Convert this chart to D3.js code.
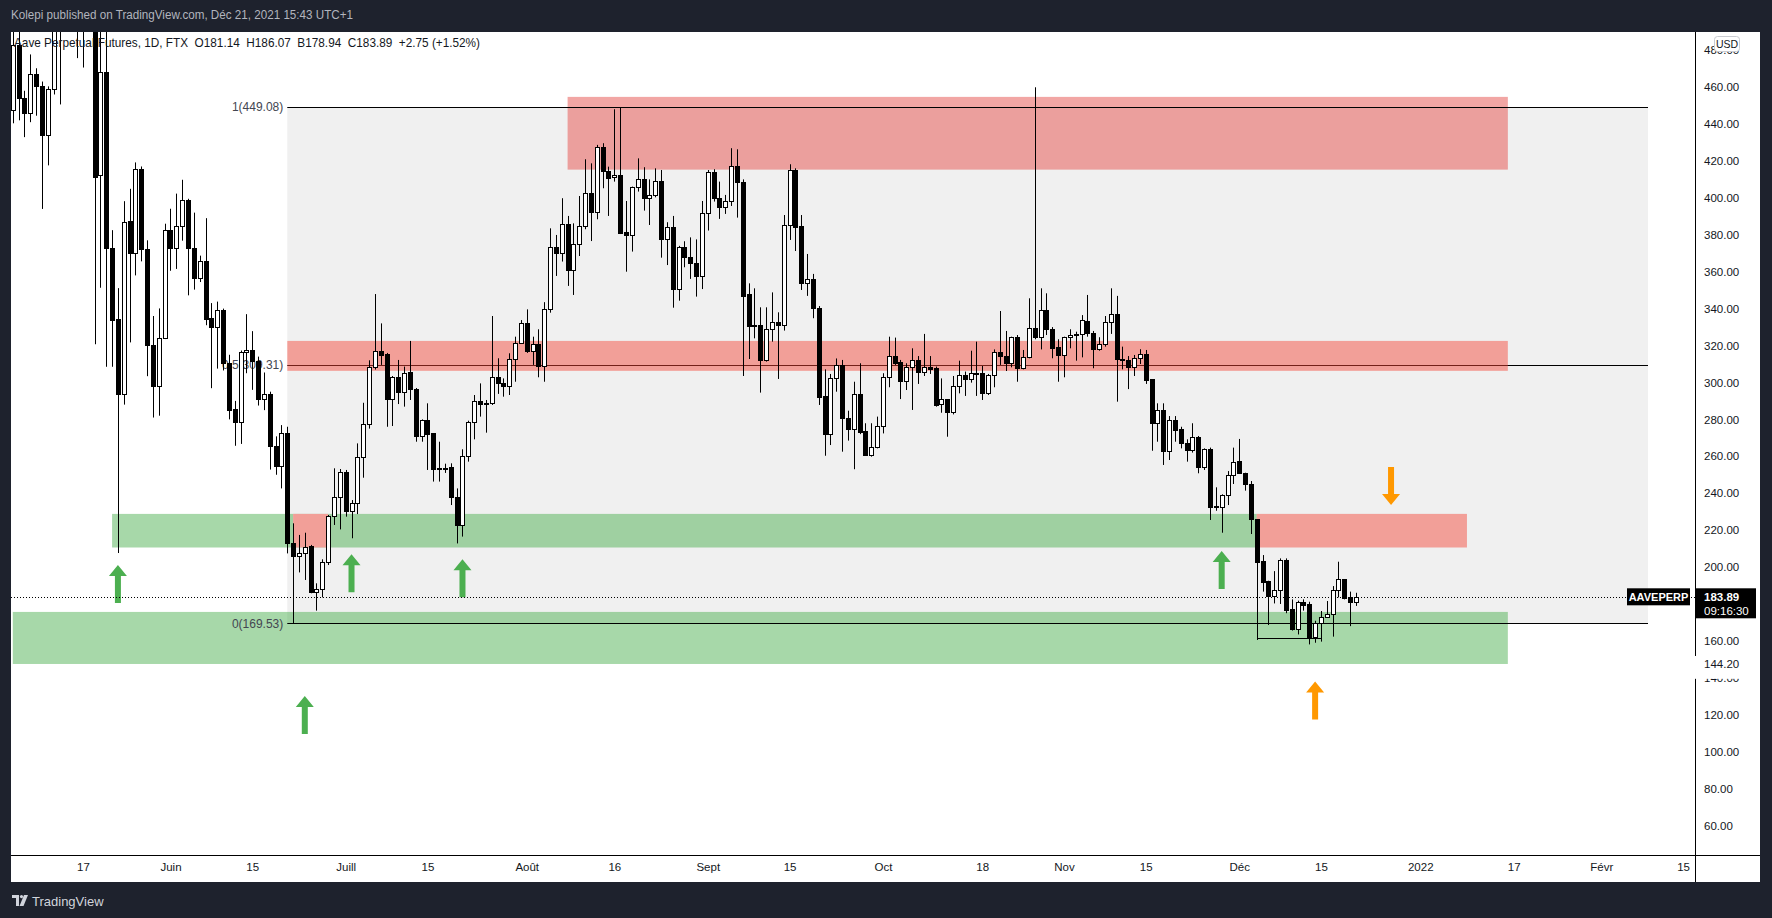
<!DOCTYPE html>
<html><head><meta charset="utf-8">
<script src="https://cdn.jsdelivr.net/npm/d3@7"></script>
<style>
html,body{margin:0;padding:0;background:#1e222d;}
svg{display:block;font-family:"Liberation Sans",Arial,sans-serif;}
</style></head>
<body>
<svg id="chart" width="1772" height="918"></svg>
<script>
// ---------- DATA ----------
const startDate = "2021-05-05";
const open  = [447.8,482.8,453.9,445.7,466.9,460.4,433.9,458.8,500,505,540,580,560,600,620,412.5,468.2,373.1,334.4,293.6,387.4,370.3,415.5,372.1,320.1,297.9,324.2,382.5,373.1,384.6,398.8,373.1,356.4,365.6,335,329.9,339,310.5,285.5,278.5,316.3,317.7,311.6,290.8,293.6,265.7,254.7,272.8,212.8,206.2,207.4,211.4,186.7,188,202.9,227.8,238.1,251.3,230.5,234.5,259.8,277.3,308.2,316.9,315.4,291.2,303.1,295,305.7,296.5,271.2,279.5,272.4,253.8,253.8,254,238.1,223,260.2,278.8,290.1,288.7,288.7,302.8,299.9,298.3,312.5,321.6,332,316.9,320.7,308.9,339.6,373.2,370,385.7,360.9,374.8,384.8,402.8,392.5,427.8,414.8,411.1,412.6,381.4,380.1,405.7,410,400.1,401.4,409,377.9,384,350.5,373.2,367.8,364.5,357.9,392,413.9,400.1,395.2,398.5,417.5,408.8,347.7,331.1,331.1,312.2,328.8,332.9,331.1,385.3,415.1,384.8,354.1,355.9,340.2,292.7,271.9,302.2,309.5,280.9,274.6,293.7,273.7,260.7,265.2,276.4,302.8,314.3,311.1,301,308.2,312.2,305.9,308.2,307.7,288.2,290.9,284.2,298.1,304,301.7,304.9,304.9,294.1,304,316.7,314.5,310.4,324.5,308,313.6,329.3,324.8,339.3,328.8,319.4,314.7,324.5,325.5,326.3,333.5,326.6,318.1,320.7,332.6,336.9,312.5,312.2,308.5,313.1,315.2,301.7,278.2,285.1,263,279.7,274.8,267.2,263.4,270.3,254.4,263.8,233.3,232.7,239,249.9,257.5,250.8,244.8,225.8,203.3,192.4,184.3,187.5,203.8,177.1,166.4,181.2,180,162.3,169.5,172.8,174.4,187.6,193.3,183.9,181.14];
const high  = [490,492,458,477.7,470.2,463,460.4,510,520,560,600,610,640,661,630,500,500,382.5,351.1,398.2,404.9,419.2,417,377,336,340.1,386,394.1,402.3,409.8,399.5,392,368.7,389,343,343.8,340,315,290,317.3,337,327.8,314,305.4,295,270.8,276.9,276,223.7,217.4,218.6,212,191.2,204.2,228.2,253.5,253.1,252.6,236.3,267,289,312,347.9,332,316,303.5,312.2,308.6,322.5,297,280,288.7,272.5,267.9,256,256.2,242.6,263.8,279.3,293.2,299.5,290.5,336,313.1,302.2,315.8,324.8,333.8,339.6,324.8,328.8,343.5,383.5,379.9,399.8,390.2,386.2,401,420.9,418.7,428.7,429.6,416.9,448,449.08,398.3,406.1,421.4,416.6,410,416,415.1,386.8,390.2,374,376.5,378.6,377.5,398.3,415.1,415.5,408.8,401.6,426.9,426.3,410,353.7,351,340.7,340.7,348.8,338,390.7,418.2,416,390.7,369.6,358.8,341.4,307.1,304.6,313,312.2,284.7,300.4,310.4,277.9,277.9,281.5,305,324.8,324.3,312.2,310.4,318.5,314.3,326.3,314.3,308.6,302.2,291,303.5,311.8,305.9,317.2,322.1,308.9,304.6,317.9,338.7,327.9,324.8,325.7,317.6,345.6,459.9,351,348.3,330,323.4,324.8,328.8,327.5,336.5,347.4,327.9,324.5,336,351,346.9,319.4,314.3,314.9,318,317.6,301.7,288.7,288.7,281.8,281.8,276,269.2,277.9,271,264.3,264.7,243.2,239.4,252,264.7,269.4,251.1,246.6,226,206.5,192.6,197.8,204.7,204.7,182.5,181.8,182.5,181.2,170.9,176.2,181.6,189.7,202.9,193.3,186.7,186.07];
const low   = [440.4,442,432.9,441,444.5,394,417.6,456,450.6,498,530,475.7,470.6,560,320.7,351.3,308.5,308.5,207.6,288,321.7,358,365.6,303.4,281,282,323.5,360.5,361.5,376.8,347.2,350.3,354.4,331,296.9,307.5,306.5,280,265.7,266.7,305,296,287.5,285,252.8,250,242.6,207.4,169.53,197.1,193,185.8,176.4,183.6,201.1,222.8,220.4,227.3,215.6,228.7,248.4,275,307,309.5,276,276.4,288.3,286.9,290.5,267.9,267.9,252.6,246.3,246.3,251,233.6,212.8,216.5,257.1,269.2,281.5,272.8,287.8,293.8,292.3,293.2,300.4,321.2,316,309.5,302.8,300.4,337.8,357.7,365.5,352.3,347.4,368.5,383,376.6,388.4,405.2,390.2,408.8,380.4,360,370.9,403.4,393.1,385.3,400.3,367.6,363.6,340.5,344.3,362.4,356.1,346.5,350.6,382.3,398,388.6,391.3,395.6,389.3,303.5,312.7,323.9,294.5,311.3,322.1,301.9,328.1,377.2,371.2,350.1,346.9,334.8,287.8,260.3,266.1,295,262.5,268.5,253,272,260.2,259.8,264.3,272.4,297.4,309.5,291,295.9,285.1,299.2,303.5,304.6,286.9,283.6,270.6,282.7,294.1,292.7,299.9,292.7,290.5,293.2,297.4,309.5,306.2,308.2,300.4,307.1,313.1,323.4,317.9,325.7,313.1,300.4,302.8,318.5,311.8,313.6,324.8,307.7,317.2,319.4,326.3,289.6,307.1,296.4,303.5,310,299.2,263,267.9,255.3,258,267.9,264.3,257.1,262,250.8,252.6,225.5,230.5,218.6,233.6,245,250.4,241.4,217.9,160.5,186.7,168.6,180.3,180,175,165.6,163.5,176.4,158.1,159,159.6,172.8,162.3,183.6,182.5,168,178.94];
const close = [482.8,453.9,445.7,466.9,460.4,433.9,458.8,500,505,540,580,560,600,620,411.5,468.2,373.1,333.9,293.6,387,370.3,415.5,372.1,320.1,297.9,324.2,382.5,373.1,385,398.8,373.1,356.4,365.6,334.4,329.9,339,310.5,285,278.5,316.3,317.7,311.6,290.8,293.6,265.7,254.5,272.8,212.8,206.2,207.4,211,186.7,188,202.9,227.8,238.1,251.3,230.5,234.5,259.8,277.3,308.2,316.9,315.1,291.2,303.1,295,305,296.5,271.2,279.5,272.1,253.3,253.5,253.3,238.1,223,260.2,278.8,290.1,288.2,288.2,302.8,299.9,298.3,312.5,321.6,332,316.9,320.7,308.9,339.6,373.2,370,385.7,360.9,374.8,384.8,402.8,392.5,427.8,414.8,411,412.6,381.2,380.1,405.7,410,400.1,401.4,409,377.9,384,350.5,373.2,367.8,364.5,357.9,392,413.9,400.1,395.2,398.5,417.5,408.8,347,330.6,330.6,312.2,328.8,332.9,331.1,385.3,415.1,384.4,354.1,355.9,340.2,292.3,271.9,302.2,309.5,280.9,274.6,293.7,273.4,260.7,265.2,276.4,302.8,314.3,310.7,301,308.2,312.2,305.9,308.2,307.5,287.8,290.9,284.2,298.1,304,301.7,304.9,304.9,294.1,304,316.7,314.5,310.4,324.5,308,313.6,329.3,324.8,339.3,328.8,318.9,314.7,324.5,325.7,326.3,333.8,326.6,318.1,320.7,332.6,336.9,312.5,312,308.5,313.1,315.2,301.3,278.2,285.1,263,279.7,274.2,267,263.4,270.3,254.4,263.8,232.7,232.7,239,249.9,257.1,250.8,244.8,225.8,202.9,192.1,184.3,187.5,203.8,176.7,166.4,181.2,179.4,162.3,169.5,172.8,174.4,187.6,193.3,183,181.14,183.89];

const yTicks = [480,460,440,420,400,380,360,340,320,300,280,260,240,220,200,160,140,120,100,80,60];
const xTickDates  = ["2021-05-17","2021-06-01","2021-06-15","2021-07-01","2021-07-15","2021-08-01","2021-08-16","2021-09-01","2021-09-15","2021-10-01","2021-10-18","2021-11-01","2021-11-15","2021-12-01","2021-12-15","2022-01-01","2022-01-17","2022-02-01","2022-02-15"];
const xTickLabels = ["17","Juin","15","Juill","15","Août","16","Sept","15","Oct","18","Nov","15","Déc","15","2022","17","Févr","15"];

// fib retracement (levels, prices, date span)
const fibLevels = ["1","0.5","0"];
const fibPrices = [449.08,309.31,169.53];
const fibSpan   = ["2021-06-21","2022-02-09"];

// zones: start, end, top, bottom, colour, opaque (drawn over other zones)
const zoneStart  = ["2021-08-08","2021-06-21","2021-05-22","2021-05-05","2021-06-22","2021-12-04"];
const zoneEnd    = ["2022-01-16","2022-01-16","2021-12-04","2022-01-16","2021-06-28","2022-01-09"];
const zoneTop    = [454.7,322.5,228.8,175.7,228.8,228.8];
const zoneBottom = [415.3,306.3,210.6,147.5,210.6,210.6];
const zoneType   = ["darkred","red","green","green","red","red"];
const zoneAlpha  = [0.5,0.47,0.49,0.49,0.47,0.47];
const zoneOpaque = [false,false,false,false,true,false];

// arrows: date, tip price, direction, colour
const arrowDates  = ["2021-05-23","2021-07-02","2021-07-21","2021-06-24","2021-11-28","2021-12-27","2021-12-14"];
const arrowTip    = [201.1,206.9,204.2,130.1,208.7,233.6,138];
const arrowDir    = ["up","up","up","up","up","down","up"];
const arrowColor  = ["green","green","green","green","green","orange","orange"];

// horizontal trend line
const trendDates = ["2021-12-04","2021-12-15"];
const trendPrice = 161.4;

const lastPrice = 183.89;
const symbol = "AAVEPERP";
const countdown = "09:16:30";
const zoneBottomLabel = "144.20";

// ---------- LAYOUT ----------
const W = 1772, H = 918;
const paneL = 11, paneT = 32, paneR = 1695, paneB = 855, axisR = 1760, bottomB = 882;
const svg = d3.select("#chart");
const parse = d3.utcParse("%Y-%m-%d");
const t0 = parse(startDate);
const candles = open.map((o,i)=>({d:d3.utcDay.offset(t0,i),o,h:high[i],l:low[i],c:close[i]}));

const x = d3.scaleUtc().domain([t0, candles[candles.length-1].d]).range([12.8, 1356]);
const y = d3.scaleLinear().domain([60,460]).range([825.5,87.1]);

svg.append("rect").attr("width",W).attr("height",H).attr("fill","#1e222d");
svg.append("rect").attr("x",paneL).attr("y",paneT).attr("width",axisR-paneL).attr("height",bottomB-paneT).attr("fill","#ffffff");

// header
svg.append("text").attr("x",11).attr("y",19).attr("fill","#b2b5be").attr("font-size",12.5)
  .attr("textLength",342).attr("lengthAdjust","spacingAndGlyphs")
  .text("Kolepi published on TradingView.com, Déc 21, 2021 15:43 UTC+1");

const defs = svg.append("defs");
defs.append("clipPath").attr("id","plot").append("rect")
  .attr("x",paneL).attr("y",paneT).attr("width",paneR-paneL).attr("height",paneB-paneT);
const plot = svg.append("g").attr("clip-path","url(#plot)");

// fib background
const fx0 = x(parse(fibSpan[0])), fx1 = x(parse(fibSpan[1]));
plot.append("rect").attr("x",fx0).attr("y",y(fibPrices[0])).attr("width",fx1-fx0)
  .attr("height",y(fibPrices[2])-y(fibPrices[0])).attr("fill","#f0f0f0");
// middle fib line under zones
plot.append("line").attr("x1",fx0).attr("x2",fx1).attr("y1",Math.round(y(fibPrices[1]))+0.5).attr("y2",Math.round(y(fibPrices[1]))+0.5)
  .attr("stroke","#000").attr("stroke-width",1);

// zones
const zoneRGB = {red:"244,67,54", darkred:"230,78,74", green:"76,175,80"};
zoneStart.forEach((s,i)=>{
  const a = Math.max(paneL, x(parse(s))), b = x(parse(zoneEnd[i]));
  const yt = y(zoneTop[i]), h = y(zoneBottom[i])-yt;
  if (zoneOpaque[i]) plot.append("rect").attr("x",a).attr("y",yt).attr("width",b-a).attr("height",h).attr("fill","#f0f0f0");
  plot.append("rect").attr("x",a).attr("y",yt).attr("width",b-a).attr("height",h)
    .attr("fill",`rgba(${zoneRGB[zoneType[i]]},${zoneAlpha[i]})`);
});
// fib top and bottom lines
[0,2].forEach(k=>{
  const yy = Math.round(y(fibPrices[k]))+0.5;
  plot.append("line").attr("x1",fx0).attr("x2",fx1).attr("y1",yy).attr("y2",yy).attr("stroke","#000").attr("stroke-width",1);
});
// fib labels
fibLevels.forEach((lv,k)=>{
  plot.append("text").attr("x",fx0-4).attr("y",y(fibPrices[k])).attr("dy","0.35em")
    .attr("text-anchor","end").attr("font-size",12).attr("fill","#434651")
    .text(`${lv}(${fibPrices[k].toFixed(2)})`);
});

// arrows
const arrowFill = {green:"#4caf50", orange:"#ff9800"};
arrowDates.forEach((d,i)=>{
  const cx = x(parse(d)), ty = y(arrowTip[i]);
  const s = arrowDir[i]==="up" ? 1 : -1;
  const hw = 9, hh = 11, sw = 3, len = 38;
  const pts = [[cx,ty],[cx+hw,ty+s*hh],[cx+sw,ty+s*hh],[cx+sw,ty+s*len],[cx-sw,ty+s*len],[cx-sw,ty+s*hh],[cx-hw,ty+s*hh]];
  plot.append("polygon").attr("points",pts.map(p=>p.join(",")).join(" ")).attr("fill",arrowFill[arrowColor[i]]);
});

// last price dotted line
const ly = Math.round(y(lastPrice))+0.5;
plot.append("line").attr("x1",paneL).attr("x2",paneR).attr("y1",ly).attr("y2",ly)
  .attr("stroke","#000").attr("stroke-width",1).attr("stroke-dasharray","1,2");

// trend line
plot.append("line").attr("x1",Math.round(x(parse(trendDates[0])))+0.5).attr("x2",x(parse(trendDates[1])))
  .attr("y1",Math.round(y(trendPrice))+0.5).attr("y2",Math.round(y(trendPrice))+0.5).attr("stroke","#000").attr("stroke-width",1.2);

// candles
const cg = plot.append("g");
candles.forEach(c=>{
  const r = Math.round(x(c.d));
  cg.append("line").attr("x1",r+0.5).attr("x2",r+0.5).attr("y1",y(c.h)).attr("y2",y(c.l))
    .attr("stroke","#000").attr("stroke-width",1);
  const top = Math.round(y(Math.max(c.o,c.c))), bot = Math.round(y(Math.min(c.o,c.c)));
  const bull = c.c >= c.o;
  cg.append("rect").attr("x",r-1.5).attr("y",top+0.5).attr("width",4).attr("height",Math.max(1,bot-top))
    .attr("fill",bull?"#fff":"#000").attr("stroke","#000").attr("stroke-width",1);
});

// legend
svg.append("text").attr("x",14).attr("y",47).attr("fill","#131722").attr("font-size",13.5)
  .style("white-space","pre").attr("xml:space","preserve")
  .attr("textLength",466).attr("lengthAdjust","spacingAndGlyphs")
  .text("Aave Perpetual Futures, 1D, FTX  O181.14  H186.07  B178.94  C183.89  +2.75 (+1.52%)");

// right axis
const ya = svg.append("g").attr("transform",`translate(${paneR},0)`)
  .call(d3.axisRight(y).tickValues(yTicks).tickFormat(d3.format(".2f")).tickSize(0).tickPadding(9));
ya.select(".domain").remove();
ya.selectAll("text").attr("font-size",11.5).attr("fill","#131722").attr("font-family","Liberation Sans, Arial, sans-serif");

// bottom axis
const xa = svg.append("g").attr("transform",`translate(0,${paneB})`)
  .call(d3.axisBottom(x).tickValues(xTickDates.map(parse)).tickFormat((d,i)=>xTickLabels[i]).tickSize(0).tickPadding(8));
xa.select(".domain").remove();
xa.selectAll("text").attr("font-size",11.5).attr("fill","#131722").attr("font-family","Liberation Sans, Arial, sans-serif");

// frame lines
svg.append("line").attr("x1",paneL).attr("x2",axisR).attr("y1",paneB+0.5).attr("y2",paneB+0.5).attr("stroke","#000");
svg.append("line").attr("x1",paneR+0.5).attr("x2",paneR+0.5).attr("y1",paneT).attr("y2",bottomB).attr("stroke","#000");

// 144.20 label (partly covering the 140.00 tick label, as in the source)
const zby = y(zoneBottom[3]);
svg.append("rect").attr("x",paneR-1).attr("y",zby-8).attr("width",axisR-paneR+1).attr("height",y(140)-zby+9).attr("fill","#fff");
svg.append("text").attr("x",paneR+9).attr("y",zby).attr("dy","0.35em").attr("font-size",11.5).attr("fill","#131722").text(zoneBottomLabel);

// USD box
svg.append("rect").attr("x",1714.5).attr("y",36.5).attr("width",25).attr("height",15).attr("rx",3)
  .attr("fill","#fff").attr("stroke","#c9cbd1");
svg.append("text").attr("x",1727).attr("y",44).attr("dy","0.35em").attr("text-anchor","middle")
  .attr("font-size",10.5).attr("fill","#131722").text("USD");

// price tags
const py = y(lastPrice);
svg.append("rect").attr("x",1627).attr("y",py-8.5).attr("width",63).attr("height",17).attr("fill","#000");
svg.append("text").attr("x",1658.5).attr("y",py).attr("dy","0.35em").attr("text-anchor","middle")
  .attr("font-size",11).attr("font-weight","bold").attr("fill","#fff").text(symbol);
svg.append("rect").attr("x",paneR+1).attr("y",py-8.5).attr("width",60).attr("height",30).attr("fill","#000");
svg.append("text").attr("x",paneR+9).attr("y",py).attr("dy","0.35em")
  .attr("font-size",11.5).attr("font-weight","bold").attr("fill","#fff").text(lastPrice.toFixed(2));
svg.append("text").attr("x",paneR+9).attr("y",py+14).attr("dy","0.35em")
  .attr("font-size",11.5).attr("fill","#fff").text(countdown);

// TradingView footer
const lg = svg.append("g").attr("transform","translate(12,895)");
lg.append("path").attr("d","M0,0 H7 V11 H4 V3 H0 Z").attr("fill","#d1d4dc");
lg.append("circle").attr("cx",9.5).attr("cy",1.6).attr("r",1.6).attr("fill","#d1d4dc");
lg.append("path").attr("d","M12,0 H16 L11.5,11 H7.5 Z").attr("fill","#d1d4dc");
svg.append("text").attr("x",32).attr("y",906).attr("font-size",13).attr("fill","#d1d4dc").text("TradingView");
</script>
</body></html>
